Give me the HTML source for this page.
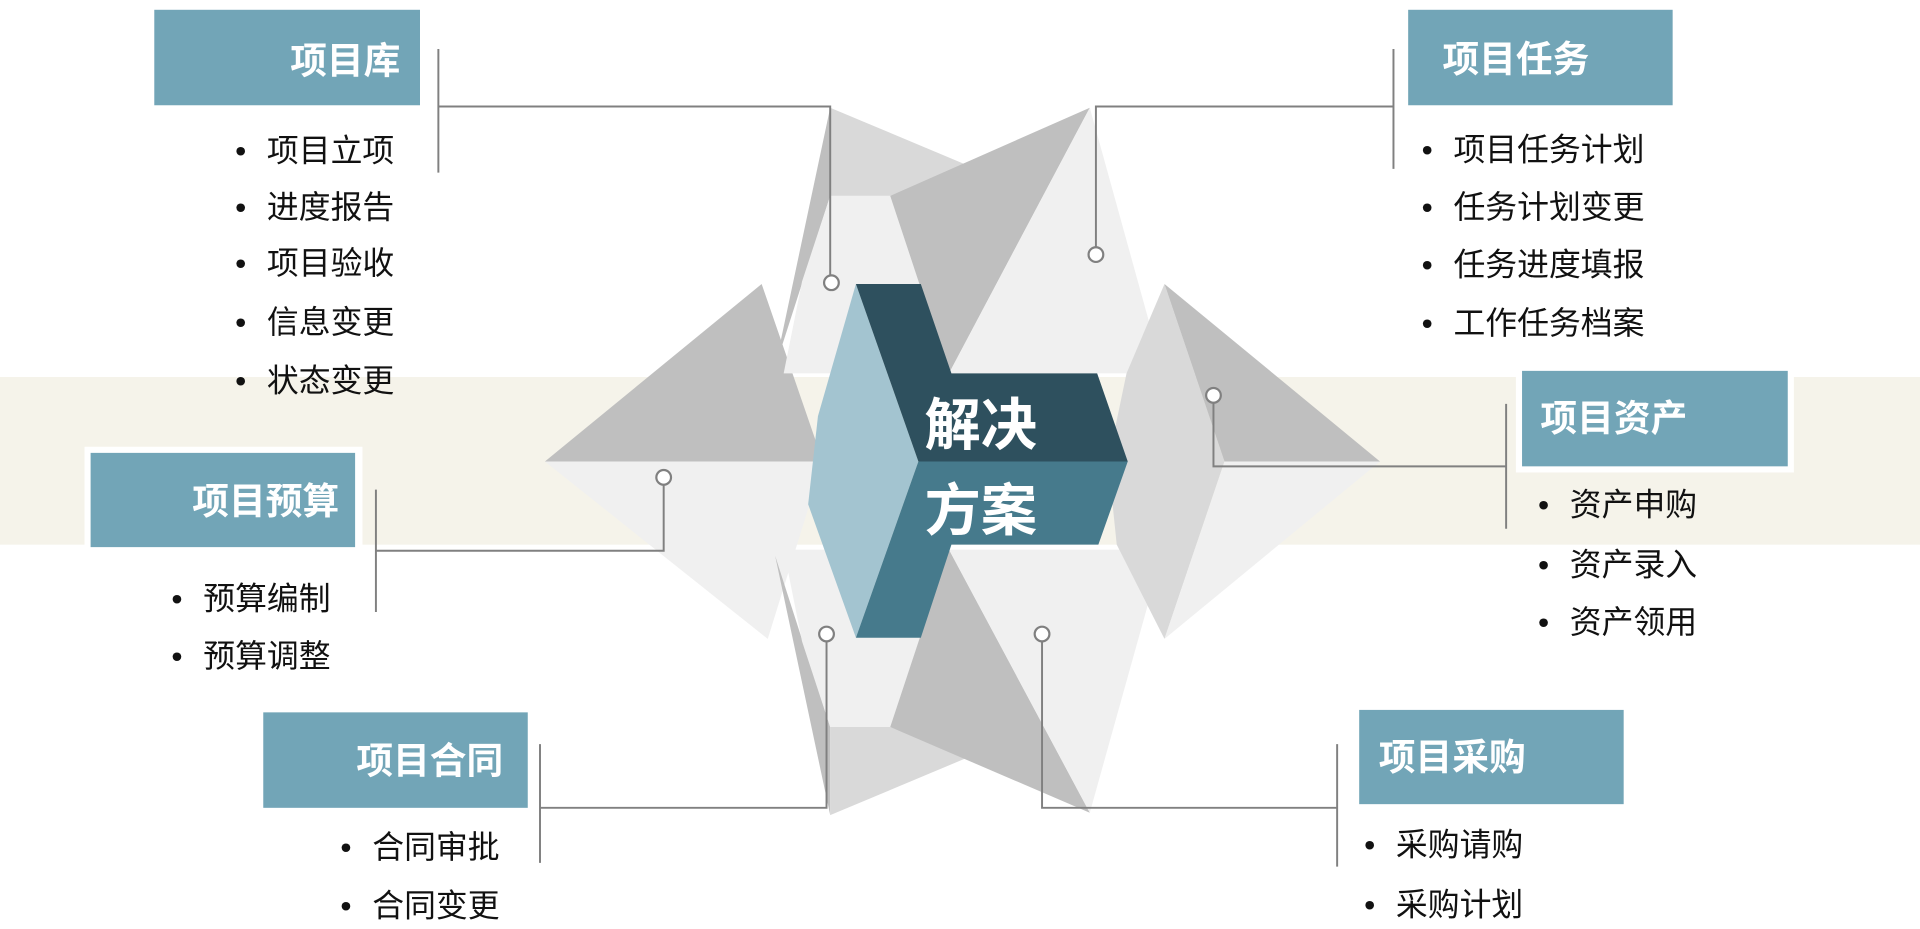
<!DOCTYPE html>
<html><head><meta charset="utf-8"><style>
html,body{margin:0;padding:0;background:#fff;}
svg{display:block;}
text{font-family:"Liberation Sans","Noto Sans CJK SC",sans-serif;}
.t{font-size:30px;font-weight:bold;fill:#fff;}
.b{font-size:26px;fill:#111;}
.l{stroke:#808080;stroke-width:1.6;fill:none;}
.c{stroke:#808080;stroke-width:1.8;fill:#fff;}
</style></head><body>
<svg width="1920" height="929" viewBox="0 0 1568 759" preserveAspectRatio="none" xmlns="http://www.w3.org/2000/svg">
<rect x="0" y="308" width="1568" height="137" fill="#f5f3ea"/>
<polygon points="445,377 622,232 672,377" fill="#bfbfbf"/>
<polygon points="445,377 672,377 627,522" fill="#f0f0f0"/>
<polygon points="678,88 633,300 678,160" fill="#bfbfbf"/>
<polygon points="678,88 790,135 727,160 678,160" fill="#d9d9d9"/>
<polygon points="678,160 727,160 775,305 640,305 655,230" fill="#f0f0f0"/>
<polygon points="890,88 727,160 775,305" fill="#bfbfbf"/>
<polygon points="890,88 950,305 775,305" fill="#f0f0f0"/>
<polygon points="678,666 633,454 678,594" fill="#bfbfbf"/>
<polygon points="678,666 790,619 727,594 678,594" fill="#d9d9d9"/>
<polygon points="678,594 727,594 775,449 640,449 655,524" fill="#f0f0f0"/>
<polygon points="890,664 727,594 775,449" fill="#bfbfbf"/>
<polygon points="890,664 950,449 775,449" fill="#f0f0f0"/>
<polygon points="951,232 920,305 905,377 912,445 951,522 1000,377" fill="#d9d9d9"/>
<polygon points="951,232 1127,377 1000,377" fill="#bfbfbf"/>
<polygon points="1000,377 1127,377 951,522" fill="#f0f0f0"/>
<polygon points="699,232 750,377 699,521 660,412 668,340" fill="#a3c4d0"/>
<polygon points="699,232 752,232 777,305 896,305 921,377 750,377" fill="#2e505e"/>
<polygon points="750,377 921,377 897,445 777,445 752,521 699,521" fill="#467a8c"/>
<text x="755" y="363" style="font-size:46px;font-weight:bold;fill:#fff">解决</text>
<text x="755" y="433" style="font-size:46px;font-weight:bold;fill:#fff">方案</text>
<path class="l" d="M358,40 V141 M358,87 H678 V225"/><circle class="c" cx="679" cy="231" r="6"/>
<path class="l" d="M1138,40 V138 M1138,87 H895 V202"/><circle class="c" cx="895" cy="208" r="6"/>
<path class="l" d="M1230,330 V432 M1230,381 H991 V329"/><circle class="c" cx="991" cy="323" r="6"/>
<path class="l" d="M307,400 V500 M307,450 H542 V396"/><circle class="c" cx="542" cy="390" r="6"/>
<path class="l" d="M441,608 V705 M441,660 H675 V524"/><circle class="c" cx="675" cy="518" r="6"/>
<path class="l" d="M1092,608 V708 M1092,660 H851 V524"/><circle class="c" cx="851" cy="518" r="6"/>
<rect x="126" y="8" width="217" height="78" fill="#72a5b7"/>
<text class="t" x="327" y="60" text-anchor="end">项目库</text>
<rect x="1150" y="8" width="216" height="78" fill="#72a5b7"/>
<text class="t" x="1178" y="59">项目任务</text>
<rect x="1238" y="298" width="227" height="88" fill="#fff"/>
<rect x="1243" y="303" width="217" height="78" fill="#72a5b7"/>
<text class="t" x="1258" y="352">项目资产</text>
<rect x="69" y="365" width="227" height="87" fill="#fff"/>
<rect x="74" y="370" width="216" height="77" fill="#72a5b7"/>
<text class="t" x="277" y="420" text-anchor="end">项目预算</text>
<rect x="215" y="582" width="216" height="78" fill="#72a5b7"/>
<text class="t" x="411" y="632" text-anchor="end">项目合同</text>
<rect x="1110" y="580" width="216" height="77" fill="#72a5b7"/>
<text class="t" x="1126" y="629">项目采购</text>
<g class="b">
<text x="192" y="132">•</text><text x="218" y="132">项目立项</text>
<text x="192" y="178">•</text><text x="218" y="178">进度报告</text>
<text x="192" y="224">•</text><text x="218" y="224">项目验收</text>
<text x="192" y="272">•</text><text x="218" y="272">信息变更</text>
<text x="192" y="320">•</text><text x="218" y="320">状态变更</text>
<text x="1161" y="131">•</text><text x="1187" y="131">项目任务计划</text>
<text x="1161" y="178">•</text><text x="1187" y="178">任务计划变更</text>
<text x="1161" y="225">•</text><text x="1187" y="225">任务进度填报</text>
<text x="1161" y="273">•</text><text x="1187" y="273">工作任务档案</text>
<text x="1256" y="421">•</text><text x="1282" y="421">资产申购</text>
<text x="1256" y="470">•</text><text x="1282" y="470">资产录入</text>
<text x="1256" y="517">•</text><text x="1282" y="517">资产领用</text>
<text x="140" y="498">•</text><text x="166" y="498">预算编制</text>
<text x="140" y="545">•</text><text x="166" y="545">预算调整</text>
<text x="278" y="701">•</text><text x="304" y="701">合同审批</text>
<text x="278" y="749">•</text><text x="304" y="749">合同变更</text>
<text x="1114" y="699">•</text><text x="1140" y="699">采购请购</text>
<text x="1114" y="748">•</text><text x="1140" y="748">采购计划</text>
</g>
</svg>
</body></html>
